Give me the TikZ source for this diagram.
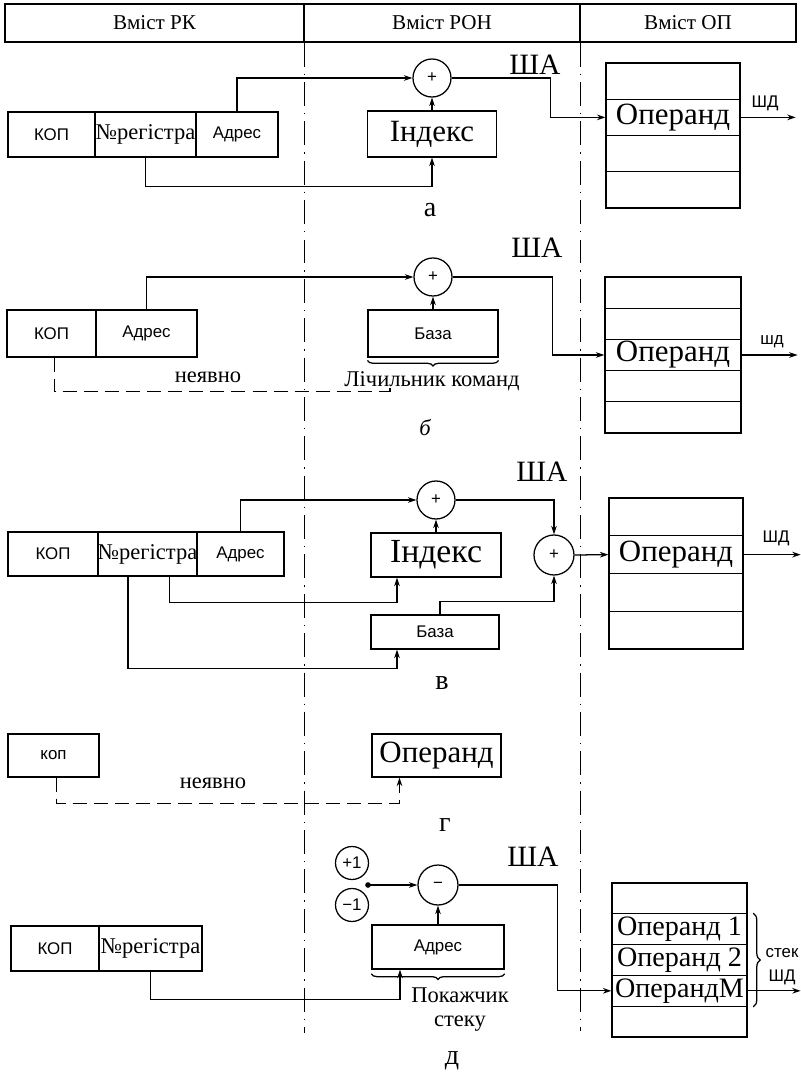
\documentclass[tikz,border=0pt]{standalone}
\usepackage{fontspec}
\setmainfont{Liberation Serif}
\setsansfont{Liberation Sans}
\usetikzlibrary{arrows.meta,calc,decorations.pathreplacing}

\begin{document}
\begin{tikzpicture}[x=0.025cm,y=-0.025cm,line width=0.9pt,
  >={Stealth[length=6pt,width=4pt]},
  fld/.style 2 args={draw,inner sep=0pt,minimum width={#1*0.025cm},
    minimum height={#2*0.025cm},font=\sffamily\fontsize{12}{12}\selectfont},
  regfont/.style={font=\fontsize{16}{16}\selectfont},
  big/.style={font=\fontsize{22}{22}\selectfont},
  head/.style={font=\fontsize{15}{15}\selectfont},
  sum/.style={draw,circle,inner sep=0pt,minimum size={38*0.025cm},
    font=\sffamily\fontsize{12}{12}\selectfont},
  unit/.style={draw,circle,inner sep=0pt,minimum size={33*0.025cm},
    font=\sffamily\fontsize{12}{12}\selectfont},
  memrow/.style 2 args={draw,inner sep=0pt,minimum width={#1*0.025cm},
    minimum height={#2*0.025cm},font=\fontsize{22}{22}\selectfont},
  shalab/.style={font=\fontsize{21}{21}\selectfont},
  lab/.style={font=\sffamily\fontsize{12}{12}\selectfont},
  mid/.style={font=\fontsize{16}{17}\selectfont},
  tag/.style={font=\fontsize{20}{20}\selectfont},
  axisline/.style={dash pattern=on 17pt off 5pt on 1pt off 5pt},
  implicit/.style={dash pattern=on 10pt off 5pt}]
\useasboundingbox (0,0) rectangle (801,1072);

% header
\node[fld={299}{38},head] (hRK) at (154.5,23) {Вміст РК};
\node[fld={276}{38},head] (hRON) at (442,23) {Вміст РОН};
\node[fld={216}{38},head] (hOP) at (688,23) {Вміст ОП};
\draw[axisline] (hRK.south east) -- ++(0,990);
\draw[axisline] (hRON.south east) -- ++(0,988);

% a
\node[fld={87}{45}] (aKop) at (51.5,134.5) {КОП};
\node[fld={101}{45},regfont] (aReg) at (145.5,134.5) {№регістра};
\node[fld={82}{45}] (aAdr) at (237,134.5) {Адрес};
\node[sum] (aSum) at (432,78) {+};
\node[fld={129}{46},big] (aIdx) at (432,134) {Індекс};
\foreach \i/\t in {1/,2/Операнд,3/,4/}
  \node[memrow={134}{36.25}] (aMem\i) at (673,{63+36.25*(\i-0.5)}) {\t};
\node[shalab] (aSha) at (535,65) {ША};
\draw[->] (aAdr.north) |- (aSum.west);
\draw[->] (aIdx.north) -- (aSum.south);
\draw[->] (aReg.south) -- ++(0,29) -| (aIdx.south);
\draw[->] (aSum.east) -- ++(99,0) |- (aMem2.west);
\draw[->] (aMem2.east) -- ++(55,0);
\node[lab] (aShd) at (765,103) {ШД};
\node[tag] (aTag) at (430,210) {а};

% b
\node[fld={89}{47}] (bKop) at (51.5,333.5) {КОП};
\node[fld={101}{47}] (bAdr) at (146.5,333.5) {Адрес};
\node[sum] (bSum) at (433,277) {+};
\node[fld={130}{47}] (bBase) at (433,333.5) {База};
\draw[decorate,decoration={brace,mirror,amplitude=4pt}]
  ([yshift=-2pt]bBase.south west) -- ([yshift=-2pt]bBase.south east);
\node[mid] (bCnt) at (432,381) {Лічильник команд};
\foreach \i/\t in {1/,2/,3/Операнд,4/,5/}
  \node[memrow={136}{31.2}] (bMem\i) at (673,{277+31.2*(\i-0.5)}) {\t};
\node[shalab] (bSha) at (537,248) {ША};
\draw[->] (bAdr.north) |- (bSum.west);
\draw[->] (bBase.north) -- (bSum.south);
\draw[->] (bSum.east) -- ++(100,0) |- (bMem3.west);
\draw[->] (bMem3.east) -- ++(56,0);
\node[lab] (bShd) at (772,342) {шд};
\coordinate (bEnd) at (390,385);
\draw[implicit] ($(bKop.south)+(3,0)$) -- ++(0,34) -| (bEnd);
\node[mid] (bImpl) at (208,377) {неявно};
\node[tag,font=\itshape\fontsize{16}{16}\selectfont] (bTag) at (425,428) {б};

% v
\node[fld={90}{44}] (vKop) at (53,554) {КОП};
\node[fld={99}{44},regfont] (vReg) at (147.5,554) {№регістра};
\node[fld={87}{44}] (vAdr) at (240.5,554) {Адрес};
\node[sum] (vSum1) at (436,500) {+};
\node[fld={130}{44},font=\fontsize{24}{24}\selectfont] (vIdx) at (436,555) {Індекс};
\node[sum,minimum size={40*0.025cm}] (vSum2) at (554,555) {+};
\node[fld={128}{34}] (vBase) at (435,632) {База};
\foreach \i/\t in {1/,2/Операнд,3/,4/}
  \node[memrow={134}{37.75}] (vMem\i) at (676,{498+37.75*(\i-0.5)}) {\t};
\node[shalab] (vSha) at (542,472) {ША};
\draw[->] (vAdr.north) |- (vSum1.west);
\draw[->] (vIdx.north) -- (vSum1.south);
\draw[->] (vSum1.east) -| (vSum2.north);
\draw[->] (vSum2.east) -- (vMem2.west);
\draw[->] ($(vReg.south)+(22,0)$) -- ++(0,26) -| ($(vIdx.south)+(-39,0)$);
\draw[->] ($(vBase.north)+(5,0)$) -- ++(0,-13) -| (vSum2.south);
\draw[->] ($(vReg.south)+(-19.5,0)$) -- ++(0,92) -| ($(vBase.south)+(-38,0)$);
\draw[->] (vMem2.east) -- ++(57,0);
\node[lab] (vShd) at (776,538) {ШД};
\node[tag] (vTag) at (442,683) {в};

% g
\node[fld={91}{43}] (gKop) at (53.5,755.5) {коп};
\node[fld={129}{43},big] (gOp) at (436.5,755.5) {Операнд};
\draw[implicit,->] ($(gKop.south)+(3,0)$) -- ++(0,26) -| ($(gOp.south)+(-37,0)$);
\node[mid] (gImpl) at (213,783) {неявно};
\node[tag] (gTag) at (445,825) {г};

% d
\node[fld={88}{45}] (dKop) at (55,948.5) {КОП};
\node[fld={103}{45},regfont] (dReg) at (150.5,948.5) {№регістра};
\node[fld={132}{44}] (dAdr) at (438,947) {Адрес};
\node[sum,minimum size={40*0.025cm}] (dSub) at (438,885) {−};
\node[unit] (dInc) at (352,863) {+1};
\node[unit] (dDec) at (352,905) {−1};
\coordinate (dSw) at (368,885);
\fill (dSw) circle (2pt);
\draw[->] (dSw) -- (dSub.west);
\draw[->] (dAdr.north) -- (dSub.south);
\draw[decorate,decoration={brace,mirror,amplitude=4pt}]
  ([yshift=-3pt]dAdr.south west) -- ([yshift=-3pt]dAdr.south east);
\draw[->] (dReg.south) -- ++(0,28) -| ($(dAdr.south)+(-38,0)$);
\node[mid,align=center] (dPtr) at (460,1010) {Покажчик\\стеку};
\foreach \i/\t in {1/,2/Операнд 1,3/Операнд 2,4/ОперандМ,5/}
  \node[memrow={135}{30.8},font=\fontsize{20}{20}\selectfont] (dMem\i) at (679.5,{883+30.8*(\i-0.5)}) {\t};
\node[shalab] (dSha) at (533,857) {ША};
\draw[->] (dSub.east) -- ++(99,0) |- (dMem4.west);
\draw[decorate,decoration={brace,amplitude=5pt}]
  ([xshift=4pt]dMem2.north east) -- ([xshift=4pt]dMem4.south east);
\node[lab] (dStack) at (782,953) {стек};
\draw[->] (dMem4.east) -- ++(53,0);
\node[lab] (dShd) at (782,977) {ШД};
\node[tag] (dTag) at (452,1061) {д};
\end{tikzpicture}
\end{document}
